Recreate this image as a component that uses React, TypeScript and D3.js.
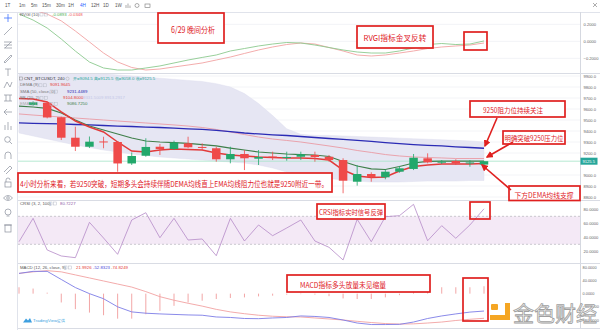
import React from 'react';
import * as d3 from 'd3';

// ---------- DATA ----------
// bar slots: -1 .. 32 (slot -1 is the partially visible bar at the left edge)
const slots = d3.range(-1, 33);
// candles (slots 0..32)
const opens = [9636,9657,9525,9339,9257,9305,9300,9105,9175,9257,9236,9288,9255,9243,9143,9191,9148,9168,9159,9166,9182,9166,9136,8939,9009,8979,9030,9055,9152,9115,9127,9111,9094.5];
const closes = [9661,9523,9339,9257,9303,9300,9105,9173,9255,9236,9294,9252,9249,9143,9191,9152,9164,9164,9164,9188,9164,9136,8948,9009,8979,9030,9061,9157,9115,9121,9105,9114,9125.5];
const highs = [9670,9665,9530,9439,9350,9348,9309,9205,9334,9282,9312,9348,9288,9257,9257,9227,9227,9212,9212,9212,9212,9182,9152,9091,9025,9052,9082,9191,9197,9136,9143,9136,9125.5];
const lows = [9630,9515,9318,9218,9245,9243,9030,9091,9166,9182,9227,9243,9227,9121,9106,9045,9091,9136,9130,9136,9121,9121,8834,8903,8939,8961,9021,9045,9106,9100,9091,9075,9058];
// overlays (slots -1..32)
const demaVals = [9696,9691,9664,9573,9491,9436,9391,9300,9218,9209,9227,9236,9232,9227,9200,9182,9173,9164,9159,9155,9155,9150,9136,9045,8991,8977,8982,9036,9077,9091,9100,9100,9100,9105];
const emaVals = [9627,9618,9605,9564,9500,9445,9409,9373,9336,9309,9300,9295,9288,9277,9264,9245,9227,9209,9200,9191,9186,9182,9168,9123,9082,9055,9050,9077,9109,9123,9127,9127,9127,9127];
const smaVals = [9473,9470,9467,9464,9459,9455,9450,9445,9441,9436,9432,9427,9420,9414,9405,9395,9382,9373,9365,9359,9350,9341,9332,9323,9314,9305,9295,9286,9277,9270,9264,9256,9250,9243];
const bbBasis = [9555,9545,9536,9527,9518,9509,9500,9491,9482,9473,9464,9455,9445,9432,9414,9391,9368,9345,9327,9314,9300,9282,9264,9245,9223,9205,9186,9173,9164,9159,9155,9150,9150,9150];
const bbUpper = [9960,9960,9960,9950,9940,9930,9920,9910,9900,9890,9880,9870,9860,9850,9830,9800,9740,9650,9540,9420,9370,9360,9360,9355,9350,9345,9340,9335,9330,9325,9320,9315,9310,9300];
const bbLower = [9382,9355,9327,9300,9273,9250,9227,9209,9191,9177,9164,9155,9145,9136,9127,9118,9109,9091,9064,9027,9000,8982,8968,8955,8945,8936,8936,8936,8941,8945,8945,8945,8950,8950];
// RVGI
const rvgiMain = [0.321,0.25,0.156,0.027,-0.115,-0.244,-0.314,-0.338,-0.338,-0.314,-0.29,-0.255,-0.22,-0.19,-0.161,-0.114,-0.085,-0.055,-0.032,-0.014,-0.02,-0.044,-0.073,-0.102,-0.126,-0.138,-0.138,-0.114,-0.079,-0.038,-0.026,-0.038,-0.032,0.004];
const rvgiSignal = [0.40,0.37,0.32,0.24,0.121,-0.008,-0.138,-0.243,-0.308,-0.338,-0.326,-0.302,-0.279,-0.255,-0.22,-0.185,-0.143,-0.102,-0.067,-0.038,-0.02,-0.032,-0.073,-0.114,-0.161,-0.173,-0.161,-0.138,-0.114,-0.085,-0.067,-0.055,-0.044,-0.02];
// CRSI
const crsiVals = [33.7,67.1,21.9,13.3,10.9,61.4,39,15.7,64.7,75.1,39.4,67.1,36.1,37.6,13.7,67.1,34.7,57.6,42.3,53.3,64.7,34.7,25.7,7.6,65.7,33.7,69.4,70.9,87.1,35.1,56.6,38.6,57.6,80.7];
// MACD
const macdVals = [61.5,67.7,67.7,43.1,18.5,0,-15.4,-40,-55.4,-59.4,-61.5,-63.1,-64.6,-65.5,-70.8,-72.3,-75.4,-76,-73.8,-72.3,-67.7,-69.2,-72.3,-80,-89.2,-93.8,-93.8,-93.2,-86.2,-75.4,-67.7,-61.5,-56,-52.8];
const signalVals = [61.5,66.2,69.8,66.2,56.9,47.7,38.5,29.2,20,6.2,-9.2,-20,-29.2,-37.8,-47.7,-55.4,-60.9,-65.5,-68.6,-70.2,-70.8,-73.8,-76.9,-80,-84,-87.7,-90.8,-92.3,-91.7,-89.2,-86.2,-81.5,-77.8,-74.8];
const histVals = [19.4,15.4,3,-26.8,-47,-57.5,-65.5,-76,-76,-62.5,-52.3,-36.9,-26.8,-21.5,-16.3,-13.2,-11.4,-8.3,-6.2,-3.1,-1.5,-3,-7.7,-14.5,-16.3,-16.3,-11.4,-4.6,14.5,19.4,19.4,19.4,19.4,22.5];
// ticks
const priceTicks = [9900,9800,9700,9600,9500,9400,9300,9200,9000,8900,8800];
const rvgiTicks = [0.2, 0, -0.2];
const crsiTicks = [80, 60, 40, 20];
const macdTicks = [80, 40, 0, -40, -80];
const intervals = ['1T','1m','5m','15m','30m','1H','4H','12H','1D','1W'];

// ---------- STYLE ----------
const GREEN = '#22a86b';
const RED = '#ef4a4a';
const ANN = '#e0201f';
const CJK = "'Noto Sans CJK SC', 'Noto Sans', sans-serif";
const UI = "'Liberation Sans', Arial, sans-serif";

const L = 18, R = 580;

export default function App() {
  const x = d3.scaleLinear().domain([-1, 32]).range([19, 484]);
  const yMain = d3.scaleLinear().domain([8800, 9900]).range([197, 76]);
  const yR = d3.scaleLinear().domain([-0.2, 0.2]).range([58.3, 24.3]);
  const yC = d3.scaleLinear().domain([20, 80]).range([251.3, 209.3]);
  const yM = d3.scaleLinear().domain([-80, 80]).range([320, 267.3]);

  const mk = (vals: number[], ys: d3.ScaleLinear<number, number>) =>
    d3.line<number>().x((_, k) => x(slots[k])).y(v => ys(v)).curve(d3.curveLinear)(vals) || '';
  const band = d3.area<number>().x((_, k) => x(slots[k])).y0((_, k) => yMain(bbLower[k])).y1((_, k) => yMain(bbUpper[k]))(slots.map(() => 0)) || '';

  const fmt1 = d3.format('.1f');
  const fmt4 = d3.format('.4f');
  const lastClose = closes[closes.length - 1];
  const bw = 8.5;

  const legendIcons = (x0: number, y0: number) => (
    <g stroke="#b8bcc8" strokeWidth={0.5} fill="none">
      <rect x={x0} y={y0 - 2} width={3} height={3} />
      <rect x={x0 + 4.5} y={y0 - 2} width={3} height={3} />
    </g>
  );

  const Box = (p: { x: number; y: number; w: number; h: number; text?: string; tx?: number; ty?: number; fs?: number; len?: number }) => (
    <g>
      <rect x={p.x} y={p.y} width={p.w} height={p.h} fill={p.text ? '#fff' : 'none'} stroke={ANN} strokeWidth={1.7} />
      {p.text && (
        <text x={p.tx} y={p.ty} fill={ANN} fontSize={p.fs} fontFamily={CJK} textAnchor="middle" dominantBaseline="central"
          textLength={p.len} lengthAdjust="spacingAndGlyphs">{p.text}</text>
      )}
    </g>
  );

  const toolY = [18, 31, 45, 58, 72, 85, 98, 112, 126, 140, 155, 168, 183, 198, 213, 228];

  return (
    <svg width={600} height={330} style={{ position: 'absolute', left: 0, top: 0, background: '#fff' }} fontFamily={UI}>
      <defs>
        <clipPath id="cR"><rect x={L} y={12} width={R - L} height={61} /></clipPath>
        <clipPath id="cM"><rect x={L} y={74} width={R - L} height={126} /></clipPath>
        <clipPath id="cC"><rect x={L} y={201} width={R - L} height={62} /></clipPath>
        <clipPath id="cD"><rect x={L} y={264} width={R - L} height={64} /></clipPath>
        <marker id="ah" viewBox="0 0 10 10" refX={8} refY={5} markerWidth={4.5} markerHeight={4.5} orient="auto-start-reverse">
          <path d="M0,0 L10,5 L0,10 z" fill={ANN} />
        </marker>
      </defs>
      <rect x={0} y={0} width={600} height={330} fill="#fff" />

      {/* top toolbar */}
      {intervals.map((t, k) => (
        <text key={t} x={[5, 19, 31, 42, 56, 68, 80, 91, 103, 115][k]} y={7} fontSize={4.6} fill={t === '4H' ? '#2962ff' : '#555'}>{t}</text>
      ))}
      <g stroke="#777" strokeWidth={0.6} fill="none">
        <path d="M126,8 V5 M128,8 V3.5 M130,8 V5.5" />
        <circle cx={137} cy={5.5} r={2} />
        <rect x={145} y={4} width={5} height={3.5} />
        <path d="M593,3 L597,7 M597,3 L593,7" />
      </g>
      <line x1={0} y1={12.5} x2={600} y2={12.5} stroke="#e0e3eb" />
      <line x1={17.5} y1={12} x2={17.5} y2={330} stroke="#e0e3eb" />
      <line x1={R + 0.5} y1={12} x2={R + 0.5} y2={328} stroke="#d5d8e0" />

      {/* left toolbar */}
      <g stroke="#8a8f9c" strokeWidth={0.7} fill="none">
        <path d={`M4,${toolY[0]} H12 M8,${toolY[0] - 4} V${toolY[0] + 4}`} stroke="#2962ff" />
        <path d={`M4,${toolY[1] + 4} L12,${toolY[1] - 4}`} />
        <path d={`M4,${toolY[2] - 3} H12 M4,${toolY[2]} H12 M4,${toolY[2] + 3} H12 M5,${toolY[2] + 3} L11,${toolY[2] - 3}`} />
        <path d={`M4,${toolY[3] + 4} L11,${toolY[3] - 3} L12,${toolY[3] - 2} L5,${toolY[3] + 5} Z`} />
        <path d={`M5,${toolY[4] - 3} H11 M8,${toolY[4] - 3} V${toolY[4] + 4}`} />
        <path d={`M4,${toolY[5] + 3} L7,${toolY[5] - 3} L10,${toolY[5] + 2} L12,${toolY[5] - 3}`} />
        <path d={`M4,${toolY[6] - 3} H12 M4,${toolY[6] + 3} H12 M6,${toolY[6] - 3} V${toolY[6] + 3} M10,${toolY[6] - 3} V${toolY[6] + 3}`} />
        <path d={`M12,${toolY[7]} H4 M7,${toolY[7] - 3} L4,${toolY[7]} L7,${toolY[7] + 3}`} />
        <path d={`M5,${toolY[8] + 4} V${toolY[8] - 1} M8,${toolY[8] + 4} V${toolY[8] - 4} M11,${toolY[8] + 4} V${toolY[8]}`} />
        <circle cx={7.5} cy={toolY[9] - 0.5} r={2.8} />
        <path d={`M9.5,${toolY[9] + 1.5} L12,${toolY[9] + 4}`} />
        <path d={`M5,${toolY[10] + 4} V${toolY[10]} A3,3 0 0 1 11,${toolY[10]} V${toolY[10] + 4}`} />
        <path d={`M4,${toolY[11] + 4} L10,${toolY[11] - 2} L12,${toolY[11]} L6,${toolY[11] + 6}`} />
        <rect x={5} y={toolY[12] - 1} width={6} height={5} />
        <path d={`M6,${toolY[12] - 1} V${toolY[12] - 3} A2,2 0 0 1 10,${toolY[12] - 3}`} />
        <path d={`M3.5,${toolY[13]} Q8,${toolY[13] - 5} 12.5,${toolY[13]} Q8,${toolY[13] + 5} 3.5,${toolY[13]} Z`} />
        <circle cx={8} cy={toolY[13]} r={1.3} />
        <circle cx={8} cy={toolY[14] - 1} r={3} />
        <path d={`M6.5,${toolY[14] + 3} H9.5`} />
        <rect x={5} y={toolY[15] - 3} width={6} height={7} />
        <path d={`M4,${toolY[15] - 3} H12`} />
      </g>

      {/* panel separators */}
      {[73.5, 200.5, 263.5, 328.5].map(v => (
        <line key={v} x1={L} y1={v} x2={600} y2={v} stroke="#d9dce4" strokeWidth={1} />
      ))}

      {/* ===== RVGI panel ===== */}
      <g>
        {rvgiTicks.map(t => (
          <g key={t}>
            <line x1={L} x2={R} y1={yR(t)} y2={yR(t)} stroke="#f2f3f7" />
            <text x={583.5} y={yR(t) + 1.5} fontSize={4.1} fill="#666">{fmt4(t)}</text>
          </g>
        ))}
        <g clipPath="url(#cR)" fill="none">
          <path d={mk(rvgiSignal, yR)} stroke="#f2a3a3" strokeWidth={0.9} />
          <path d={mk(rvgiMain, yR)} stroke="#8cc98e" strokeWidth={0.9} />
        </g>
        <text x={20} y={15.5} fontSize={4.3} fill="#555">RVGI (10)</text>
        {legendIcons(40, 15)}
        <text x={52} y={15.5} fontSize={4.3} fill="#4caf50">-0.0893</text>
        <text x={68} y={15.5} fontSize={4.3} fill="#ef5350">-0.0348</text>
      </g>

      {/* ===== Main panel ===== */}
      <g>
        {priceTicks.map(t => (
          <g key={t}>
            <line x1={L} x2={R} y1={yMain(t)} y2={yMain(t)} stroke="#f3f4f7" />
            <text x={583.5} y={yMain(t) + 1.5} fontSize={4.1} fill="#666">{fmt1(t)}</text>
          </g>
        ))}
        <g clipPath="url(#cM)">
          <path d={band} fill="#e6e6f3" stroke="#dcdcee" strokeWidth={0.4} />
          <line x1={L} x2={R} y1={yMain(lastClose)} y2={yMain(lastClose)} stroke="#a5e3c8" strokeWidth={0.8} />
          <g fill="none">
            <path d={mk(bbBasis, yMain)} stroke="#eaa3ad" strokeWidth={1} />
            <path d={mk(smaVals, yMain)} stroke="#2b2bb5" strokeWidth={1.3} />
            <path d={mk(emaVals, yMain)} stroke="#3f7f4a" strokeWidth={1.2} />
            <path d={mk(demaVals, yMain)} stroke="#e23a3a" strokeWidth={1.5} />
          </g>
          {opens.map((o, i) => {
            const c = closes[i];
            const col = c >= o ? GREEN : RED;
            const cx = x(i);
            const top = yMain(Math.max(o, c));
            const h = Math.max(1, yMain(Math.min(o, c)) - top);
            return (
              <g key={i}>
                <line x1={cx} x2={cx} y1={yMain(highs[i])} y2={yMain(lows[i])} stroke={col} strokeWidth={0.8} />
                <rect x={cx - bw / 2} y={top} width={bw} height={h} fill={col} />
              </g>
            );
          })}
        </g>
        <rect x={R + 0.5} y={yMain(lastClose) - 3.5} width={17} height={7} fill="#26a69a" />
        <text x={582.5} y={yMain(lastClose) + 1.5} fontSize={4.1} fill="#fff">{fmt1(lastClose)}</text>

        {/* legend */}
        <g fontSize={4.3}>
          <rect x={19.5} y={77} width={3} height={3} fill="none" stroke="#888" strokeWidth={0.5} />
          <text x={24} y={80} fill="#333">CNT_BTCUSDT, 240</text>
          <circle cx={67.5} cy={78.7} r={1.6} fill="none" stroke="#aaa" strokeWidth={0.5} />
          <text x={73} y={80} fill="#26a69a">开=9094.5  高=9125.5  低=9058.0  收=9125.5</text>
          <text x={20} y={86.3} fill="#777">DEMA (9)</text>
          {legendIcons(39, 85.8)}
          <text x={50} y={86.3} fill="#e53935">9091.9645</text>
          <text x={20} y={92.6} fill="#777">SMA (50, close, 0)</text>
          {legendIcons(50, 92.1)}
          <text x={67} y={92.6} fill="#2b2bb5">9231.4489</text>
          <text x={20} y={98.9} fill="#777">BB (20, 2)</text>
          {legendIcons(40, 98.4)}
          <text x={63} y={98.9} fill="#e53935">9104.8000</text>
          <text x={83} y={98.9} fill="#c5c8e8">9331.5009  8913.2917</text>
          <text x={20} y={105.2} fill="#aaa">EMA (21)</text>
          {legendIcons(50, 104.7)}
          <text x={67} y={105.2} fill="#3f7f4a">9086.7250</text>
        </g>
      </g>

      {/* ===== CRSI panel ===== */}
      <g>
        <rect x={L} y={yC(70)} width={R - L} height={yC(30) - yC(70)} fill="#f4e9f6" />
        <line x1={L} x2={R} y1={yC(70)} y2={yC(70)} stroke="#a8a8b0" strokeWidth={0.6} strokeDasharray="2,2" />
        <line x1={L} x2={R} y1={yC(30)} y2={yC(30)} stroke="#a8a8b0" strokeWidth={0.6} strokeDasharray="2,2" />
        {crsiTicks.map(t => (
          <text key={t} x={583.5} y={yC(t) + 1.5} fontSize={4.1} fill="#666">{fmt4(t)}</text>
        ))}
        <g clipPath="url(#cC)">
          <path d={mk(crsiVals, yC)} fill="none" stroke="#b58ac8" strokeWidth={0.8} />
        </g>
        <text x={20} y={204.5} fontSize={4.3} fill="#555">CRSI (3, 2, 100)</text>
        {legendIcons(49, 204)}
        <text x={60} y={204.5} fontSize={4.3} fill="#8e5aa8">80.7227</text>
      </g>

      {/* ===== MACD panel ===== */}
      <g>
        {macdTicks.map(t => (
          <text key={t} x={582.5} y={yM(t) + 1.5} fontSize={3.9} fill="#666">{fmt4(t)}</text>
        ))}
        <g clipPath="url(#cD)">
          {histVals.map((v, k) => (
            <line key={k} x1={x(slots[k])} x2={x(slots[k])} y1={yM(0)} y2={yM(v)} stroke="#f19c9c" strokeWidth={0.9} />
          ))}
          <path d={mk(signalVals, yM)} fill="none" stroke="#f2a2a2" strokeWidth={0.9} />
          <path d={mk(macdVals, yM)} fill="none" stroke="#7d7de6" strokeWidth={0.9} />
        </g>
        <text x={20} y={268.5} fontSize={4.3} fill="#555">MACD (12, 26, close, 9)</text>
        {legendIcons(64, 268)}
        <text x={76} y={268.5} fontSize={4.3} fill="#e53935">21.9926</text>
        <text x={93} y={268.5} fontSize={4.3} fill="#4848d8">-52.8323</text>
        <text x={111} y={268.5} fontSize={4.3} fill="#e53935">-74.8249</text>
        {/* TradingView credit */}
        <path d="M23,322.5 L26,318.5 L28,320.5 L30,318 L32,322.5 Z" fill="#3d9fe0" />
        <text x={33} y={322.3} fontSize={4.4} fill="#3d9fe0">TradingView提供</text>
      </g>

      {/* ===== annotations ===== */}
      <Box x={158} y={13} w={66} h={30} text="6/29 晚间分析" tx={193} ty={29} fs={8.5} len={44} />
      <Box x={357} y={26} w={76} h={22} text="RVGI指标金叉反转" tx={395} ty={37} fs={8} len={63} />
      <Box x={464} y={32} w={23} h={18} />
      <Box x={470} y={101} w={95} h={16} text="9250阻力位持续关注" tx={513} ty={109.5} fs={7.2} len={60} />
      <Box x={503} y={131} w={62} h={13} text="明确突破9250压力位" tx={534} ty={137.5} fs={7} len={59} />
      <Box x={18} y={173} w={314} h={19} text="4小时分析来看，若9250突破，短期多头会持续伴随DEMA均线直上EMA均线阻力位也就是9250附近一带。" tx={174} ty={183} fs={8} len={308} />
      <Box x={509} y={186} w={71} h={14.5} text="下方DEMA均线支撑" tx={544} ty={194.5} fs={7} len={59} />
      <Box x={317} y={204} w={68} h={15} text="CRSI指标实时信号反弹" tx={351} ty={212} fs={7} len={64} />
      <Box x={470} y={202} w={20} h={17} />
      <Box x={287} y={275} w={143} h={17} text="MACD指标多头放量未见缩量" tx={343} ty={284} fs={7.5} len={86} />
      <Box x={463} y={278} w={25} h={43} />

      {/* arrows */}
      <g stroke={ANN} strokeWidth={1.6} fill="none">
        <line x1={497} y1={118} x2={485} y2={146} markerEnd="url(#ah)" />
        <line x1={513} y1={142} x2={487} y2={157} markerEnd="url(#ah)" />
        <line x1={511} y1={190} x2={482} y2={165} markerEnd="url(#ah)" />
      </g>

      {/* watermark */}
      <g>
        <rect x={491} y={304} width={7} height={6} rx={1} fill="#f5a623" />
        <path d="M505,303 H510 V320 H490 V315 H505 Z" fill="#f5a623" />
        <text x={513} y={321} fontSize={21} fontFamily={CJK} fill="#f6f6f6" fillOpacity={0.85} stroke="#a0a0a0" strokeWidth={0.8}
          textLength={84} lengthAdjust="spacingAndGlyphs">金色财经</text>
      </g>
    </svg>
  );
}
